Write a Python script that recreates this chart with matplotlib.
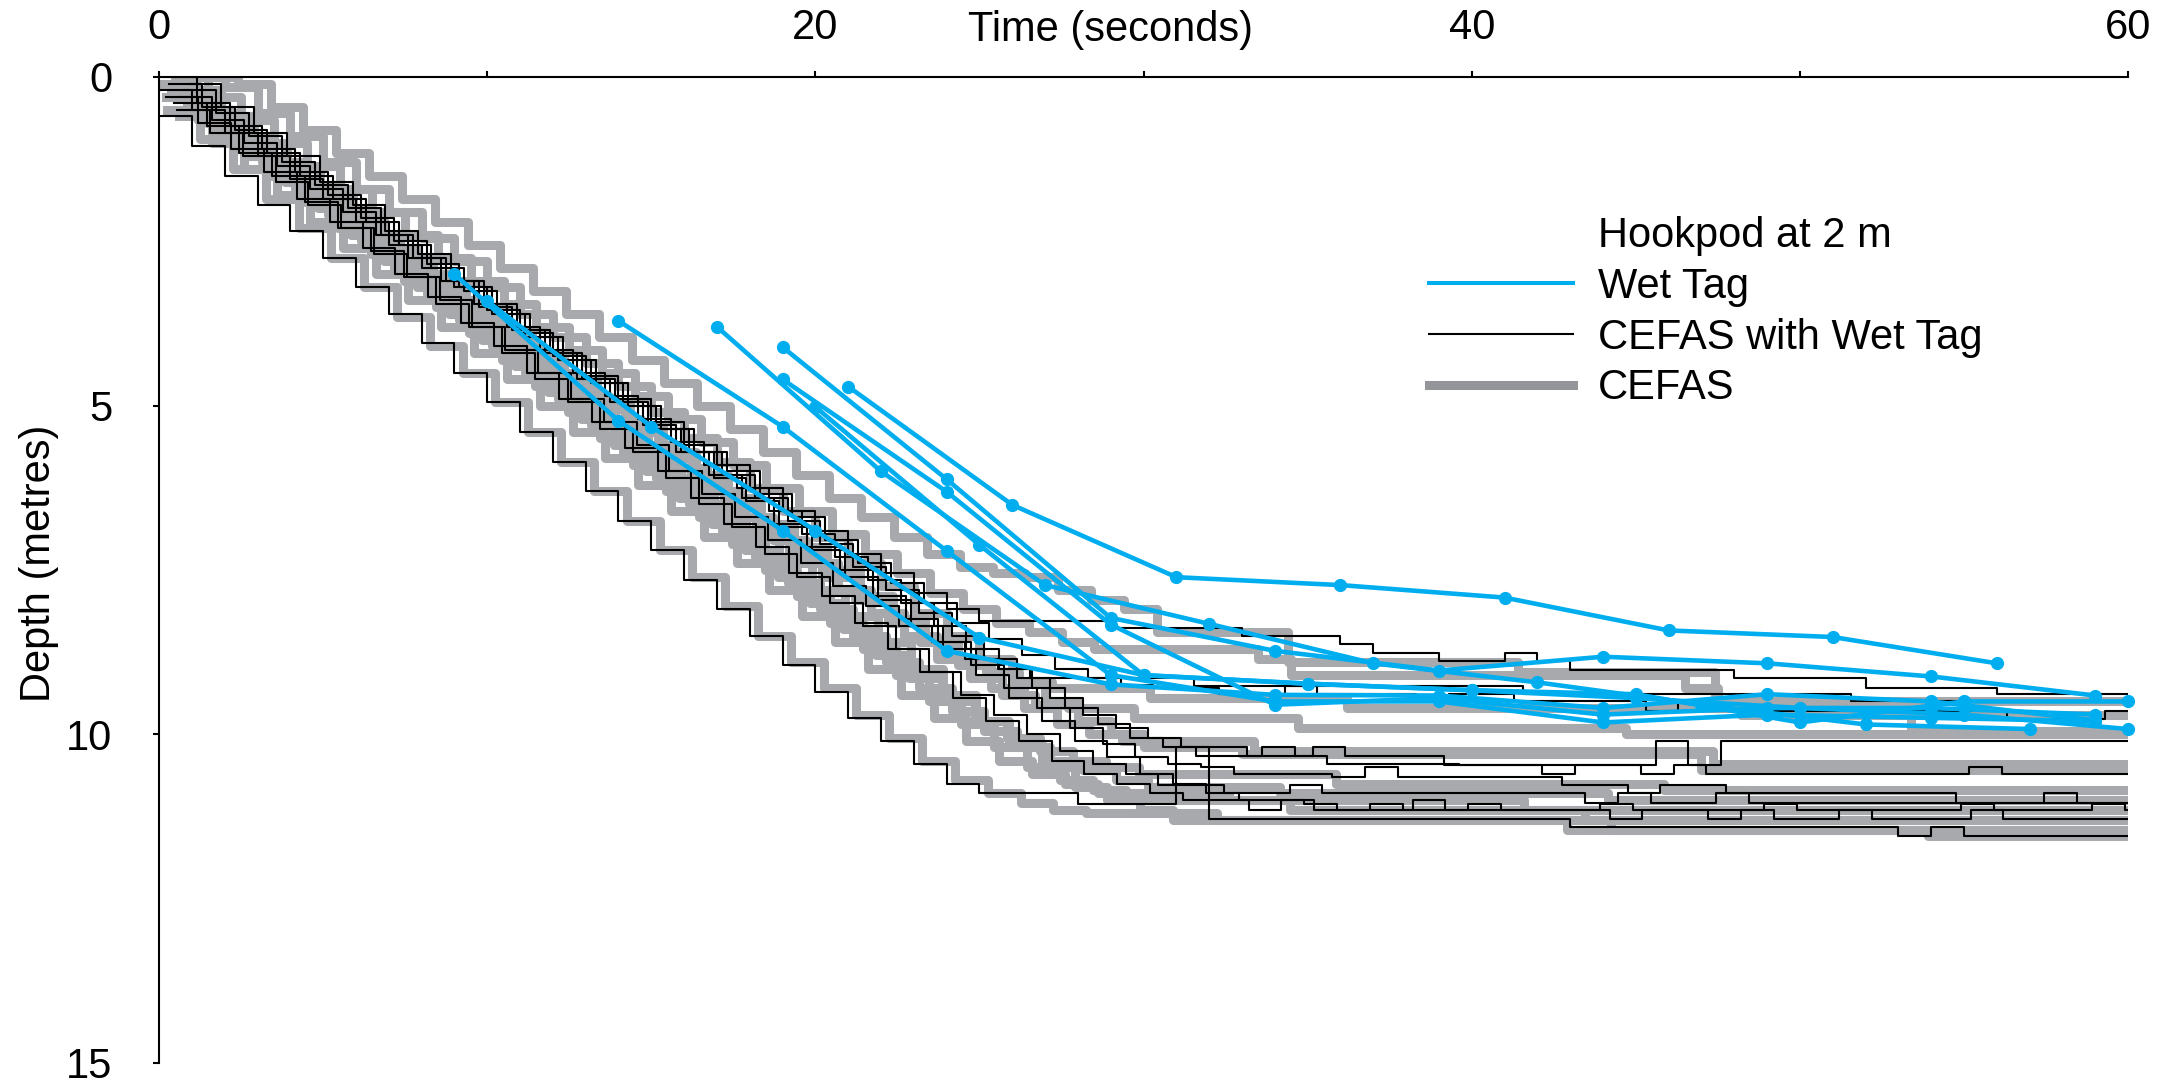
import numpy as np
import matplotlib.pyplot as plt
from matplotlib.lines import Line2D

plt.rcParams["font.family"] = ["Liberation Sans", "DejaVu Sans"]

# CEFAS depth traces: one value per second from the given start time
g1_start = 1.4
g1 = [0.0, 0.1, 0.45, 0.8, 1.15, 1.5, 1.85, 2.2, 2.55, 2.9, 3.25, 3.6, 3.95, 4.3, 4.65, 5.0, 5.35, 5.7, 6.05, 6.4,
      6.7, 7.0, 7.25, 7.45, 7.55, 7.6, 7.8, 7.95, 8.1, 8.45, 8.45, 8.45, 8.45, 8.9, 8.9, 8.9, 8.9, 8.9, 8.9, 8.9,
      9.05, 9.05, 9.05, 9.05, 9.05, 9.05, 9.6, 9.6, 9.6, 9.6, 9.6, 9.6, 9.95, 9.95, 9.95, 9.95, 9.95, 9.95, 9.95, 9.95]
g2_start = 0.5
g2 = [0.0, 0.3, 0.65, 1.0, 1.35, 1.7, 2.05, 2.4, 2.75, 3.1, 3.45, 3.8, 4.15, 4.5, 4.85, 5.2, 5.55, 5.9, 6.25, 6.6,
      6.95, 7.25, 7.55, 7.85, 8.1, 8.3, 8.45, 8.6, 8.7, 8.7, 8.7, 8.7, 8.7, 8.85, 9.1, 9.1, 9.1, 9.1, 9.1, 9.1,
      9.1, 9.1, 9.1, 9.1, 9.1, 9.1, 9.3, 9.5, 9.5, 9.5, 9.5, 9.5, 9.5, 9.5, 9.5, 9.5, 9.5, 9.5, 9.5, 9.5, 9.5]
g3_start = 0.2
g3 = [0.3, 0.65, 1.0, 1.4, 1.75, 2.1, 2.5, 2.85, 3.2, 3.6, 3.95, 4.3, 4.7, 5.05, 5.4, 5.8, 6.15, 6.5, 6.9, 7.25,
      7.6, 7.95, 8.3, 8.6, 8.85, 9.05, 9.2, 9.3, 9.3, 9.3, 9.45, 9.45, 9.45, 9.45, 9.45, 9.45, 9.6, 9.6, 9.6, 9.6,
      9.6, 9.6, 9.6, 9.6, 9.6, 9.6, 9.6, 9.6, 9.7, 9.7, 9.7, 9.7, 9.7, 9.7, 9.7, 9.7, 9.7, 9.7, 9.7, 9.7, 9.7]
g4_start = 0.7
g4 = [0.5, 0.85, 1.2, 1.55, 1.9, 2.3, 2.65, 3.0, 3.4, 3.75, 4.1, 4.5, 4.85, 5.2, 5.6, 5.95, 6.3, 6.7, 7.05, 7.4,
      7.8, 8.15, 8.5, 8.85, 9.15, 9.4, 9.55, 9.6, 9.6, 9.75, 9.75, 9.75, 9.75, 9.75, 9.9, 9.9, 9.9, 9.9, 9.9, 9.9,
      9.9, 9.9, 9.9, 9.9, 10.0, 10.0, 10.0, 10.0, 10.0, 10.0, 10.0, 10.0, 10.0, 10.0, 10.0, 10.0, 10.0, 10.0, 10.0,
      10.0, 10.0]
g5_start = 0.35
g5 = [0.2, 0.55, 0.9, 1.3, 1.65, 2.0, 2.4, 2.75, 3.1, 3.5, 3.85, 4.2, 4.6, 4.95, 5.3, 5.7, 6.05, 6.4, 6.8, 7.15,
      7.5, 7.9, 8.25, 8.6, 8.95, 9.3, 9.6, 9.85, 10.0, 10.1, 10.1, 10.1, 10.1, 10.25, 10.25, 10.25, 10.25, 10.25,
      10.25, 10.25, 10.25, 10.25, 10.25, 10.25, 10.25, 10.25, 10.25, 10.45, 10.45, 10.45, 10.45, 10.45, 10.45,
      10.45, 10.45, 10.45, 10.45, 10.45, 10.45, 10.45, 10.45]
g6_start = 1.0
g6 = [0.0, 0.15, 0.55, 0.9, 1.3, 1.7, 2.05, 2.45, 2.8, 3.2, 3.6, 3.95, 4.35, 4.7, 5.1, 5.5, 5.85, 6.25, 6.6, 7.0,
      7.4, 7.75, 8.15, 8.5, 8.85, 9.2, 9.5, 9.8, 10.0, 10.2, 10.2, 10.2, 10.3, 10.3, 10.3, 10.3, 10.3, 10.3, 10.3,
      10.3, 10.3, 10.3, 10.3, 10.3, 10.3, 10.3, 10.55, 10.55, 10.55, 10.55, 10.55, 10.55, 10.55, 10.55, 10.55,
      10.55, 10.55, 10.55, 10.55, 10.55]
g7_start = 0.85
g7 = [0.4, 0.8, 1.2, 1.6, 2.0, 2.4, 2.8, 3.2, 3.6, 4.0, 4.4, 4.8, 5.2, 5.6, 6.0, 6.4, 6.8, 7.2, 7.6, 8.0,
      8.4, 8.8, 9.15, 9.5, 9.8, 10.05, 10.25, 10.4, 10.5, 10.6, 10.6, 10.6, 10.6, 10.6, 10.6, 10.75, 10.75, 10.75,
      10.75, 10.75, 10.75, 10.75, 10.75, 10.75, 10.75, 10.85, 10.85, 10.85, 10.85, 10.85, 10.85, 10.85, 10.85,
      10.85, 10.85, 10.85, 10.85, 10.85, 10.85, 10.85, 10.85]
g8_start = 0.15
g8 = [0.1, 0.5, 0.9, 1.3, 1.7, 2.1, 2.5, 2.9, 3.3, 3.7, 4.1, 4.5, 4.9, 5.3, 5.7, 6.1, 6.5, 6.9, 7.3, 7.7,
      8.1, 8.5, 8.9, 9.3, 9.65, 9.95, 10.2, 10.4, 10.55, 10.7, 10.8, 10.8, 10.8, 10.8, 10.9, 10.9, 10.9, 10.9,
      10.9, 10.9, 10.9, 10.9, 10.9, 10.9, 11.0, 11.0, 11.0, 11.0, 11.0, 11.0, 11.0, 11.0, 11.0, 11.0, 11.0, 11.0,
      11.0, 11.0, 11.0, 11.0, 11.0]
g9_start = 0.6
g9 = [0.6, 1.0, 1.4, 1.8, 2.2, 2.6, 3.0, 3.4, 3.8, 4.2, 4.6, 5.0, 5.4, 5.8, 6.2, 6.6, 7.0, 7.4, 7.8, 8.2,
      8.6, 9.0, 9.4, 9.75, 10.1, 10.4, 10.6, 10.75, 10.9, 10.9, 10.9, 10.9, 11.0, 11.0, 11.0, 11.0, 11.0, 11.0,
      11.0, 11.0, 11.0, 11.15, 11.15, 11.15, 11.15, 11.15, 11.15, 11.15, 11.15, 11.15, 11.15, 11.15, 11.15, 11.15,
      11.15, 11.15, 11.15, 11.15, 11.15, 11.15, 11.15]
g10_start = 0.45
g10 = [0.3, 0.7, 1.1, 1.5, 1.9, 2.3, 2.7, 3.1, 3.5, 3.9, 4.3, 4.7, 5.1, 5.5, 5.9, 6.3, 6.7, 7.1, 7.5, 7.9,
       8.3, 8.7, 9.1, 9.5, 9.85, 10.2, 10.5, 10.7, 10.85, 11.0, 11.0, 11.0, 11.0, 11.0, 11.15, 11.15, 11.15, 11.15,
       11.15, 11.15, 11.15, 11.15, 11.15, 11.3, 11.3, 11.3, 11.3, 11.3, 11.3, 11.3, 11.3, 11.3, 11.3, 11.3, 11.3,
       11.3, 11.3, 11.3, 11.3, 11.3, 11.3]
g11_start = 0.25
g11 = [0.5, 0.95, 1.4, 1.85, 2.3, 2.75, 3.2, 3.65, 4.1, 4.5, 4.95, 5.4, 5.85, 6.3, 6.75, 7.2, 7.6, 8.05, 8.5,
       8.9, 9.3, 9.7, 10.05, 10.4, 10.7, 10.9, 11.05, 11.15, 11.2, 11.2, 11.2, 11.2, 11.3, 11.3, 11.3, 11.3, 11.3,
       11.3, 11.3, 11.3, 11.3, 11.3, 11.3, 11.3, 11.45, 11.45, 11.45, 11.45, 11.45, 11.45, 11.45, 11.45, 11.45,
       11.45, 11.45, 11.45, 11.45, 11.45, 11.45, 11.45, 11.45]
g12_start = 0.9
g12 = [0.2, 0.6, 1.0, 1.4, 1.8, 2.2, 2.6, 3.0, 3.4, 3.8, 4.2, 4.6, 5.0, 5.4, 5.8, 6.2, 6.6, 7.0, 7.4, 7.8,
       8.2, 8.6, 9.0, 9.4, 9.8, 10.15, 10.5, 10.8, 11.0, 11.15, 11.3, 11.3, 11.3, 11.3, 11.3, 11.3, 11.3, 11.3,
       11.3, 11.3, 11.3, 11.3, 11.45, 11.45, 11.45, 11.45, 11.45, 11.45, 11.45, 11.45, 11.45, 11.45, 11.45, 11.55,
       11.55, 11.55, 11.55, 11.55, 11.55, 11.55, 11.55]

# CEFAS traces recorded alongside a Wet Tag
k1_start = 0.0
k1 = [0.2, 0.5, 0.85, 1.2, 1.55, 1.85, 2.2, 2.55, 2.9, 3.2, 3.55, 3.9, 4.25, 4.55, 4.9, 5.25, 5.6, 5.9, 6.25,
      6.6, 6.9, 7.25, 7.55, 7.85, 8.1, 8.27, 8.27, 8.27, 8.27, 8.38, 8.38, 8.38, 8.38, 8.5, 8.5, 8.5, 8.62, 8.76,
      8.76, 8.88, 8.88, 8.76, 8.88, 9.02, 9.02, 9.02, 9.02, 9.02, 9.14, 9.14, 9.14, 9.14, 9.29, 9.29, 9.29, 9.29,
      9.39, 9.39, 9.39, 9.39, 9.39]
k2_start = 0.3
k2 = [0.1, 0.45, 0.8, 1.15, 1.5, 1.85, 2.2, 2.55, 2.9, 3.25, 3.6, 3.95, 4.3, 4.65, 5.0, 5.35, 5.7, 6.0, 6.35,
      6.7, 7.05, 7.4, 7.7, 8.0, 8.3, 8.55, 8.8, 9.0, 9.15, 9.25, 9.3, 9.3, 9.39, 9.39, 9.27, 9.39, 9.39, 9.39,
      9.5, 9.39, 9.39, 9.5, 9.5, 9.5, 9.5, 9.64, 9.5, 9.64, 9.64, 9.64, 9.64, 9.64, 9.64, 9.64, 9.64, 9.64, 9.77,
      9.77, 9.77, 9.64, 9.77]
k3_start = 0.6
k3 = [0.3, 0.65, 1.0, 1.35, 1.7, 2.05, 2.4, 2.75, 3.1, 3.45, 3.8, 4.15, 4.5, 4.85, 5.2, 5.55, 5.9, 6.25, 6.6,
      6.95, 7.3, 7.65, 8.0, 8.35, 8.7, 9.0, 9.3, 9.6, 9.85, 10.05, 10.2, 10.33, 10.33, 10.2, 10.33, 10.45, 10.45,
      10.45, 10.45, 10.47, 10.47, 10.47, 10.47, 10.47, 10.47, 10.1, 10.47, 10.1, 10.1, 10.1, 10.1, 10.1, 10.1,
      10.1, 10.1, 10.1, 10.1, 10.1, 10.1, 10.1, 10.1]
k4_start = 0.15
k4 = [0.0, 0.4, 0.75, 1.1, 1.45, 1.8, 2.15, 2.5, 2.85, 3.2, 3.6, 3.95, 4.3, 4.65, 5.0, 5.35, 5.7, 6.05, 6.4,
      6.75, 7.1, 7.45, 7.8, 8.15, 8.5, 8.85, 9.15, 9.45, 9.7, 9.9, 10.05, 10.2, 10.2, 10.33, 10.33, 10.2, 10.33,
      10.33, 10.33, 10.47, 10.47, 10.47, 10.6, 10.47, 10.47, 10.6, 10.47, 10.6, 10.6, 10.6, 10.6, 10.6, 10.6, 10.6,
      10.6, 10.5, 10.6, 10.6, 10.6, 10.6, 10.6]
k5_start = 0.75
k5 = [0.2, 0.55, 0.9, 1.3, 1.65, 2.0, 2.4, 2.75, 3.1, 3.5, 3.85, 4.2, 4.6, 4.95, 5.3, 5.7, 6.05, 6.4, 6.8,
      7.15, 7.5, 7.9, 8.25, 8.6, 8.95, 9.3, 9.6, 9.9, 10.15, 10.35, 10.45, 10.5, 10.6, 10.6, 10.6, 10.65, 10.5,
      10.65, 10.65, 10.65, 10.65, 10.65, 10.77, 10.77, 10.9, 10.77, 10.77, 10.9, 10.9, 10.9, 10.9, 10.9, 10.9,
      10.9, 11.05, 11.05, 11.05, 11.05, 11.05, 11.05, 11.05]
k6_start = 0.45
k6 = [0.4, 0.75, 1.15, 1.5, 1.9, 2.3, 2.65, 3.05, 3.45, 3.8, 4.2, 4.6, 4.95, 5.35, 5.7, 6.1, 6.5, 6.85, 7.25,
      7.6, 8.0, 8.35, 8.7, 9.05, 9.4, 9.7, 10.0, 10.25, 10.45, 10.6, 10.77, 10.77, 10.9, 10.9, 10.77, 10.9, 10.9,
      10.9, 10.9, 10.9, 10.9, 10.9, 10.9, 11.05, 10.9, 11.05, 11.05, 10.9, 11.05, 11.05, 11.05, 11.05, 11.05,
      11.05, 11.05, 11.05, 11.05, 10.9, 11.05, 11.05, 11.05]
k7_start = 0.9
k7 = [0.1, 0.45, 0.85, 1.2, 1.6, 1.95, 2.35, 2.7, 3.1, 3.45, 3.85, 4.2, 4.6, 4.95, 5.35, 5.7, 6.1, 6.45, 6.85,
      7.2, 7.6, 7.95, 8.35, 8.7, 9.1, 9.45, 9.8, 10.1, 10.35, 10.6, 10.75, 10.9, 11.0, 11.0, 11.06, 11.15, 11.06,
      11.15, 11.15, 11.06, 11.15, 11.15, 11.15, 11.06, 11.15, 11.15, 11.15, 11.15, 11.06, 11.15, 11.15, 11.15,
      11.15, 11.15, 11.06, 11.15, 11.15, 11.15, 11.06, 11.15, 11.15]
k8_start = 0.2
k8 = [0.3, 0.7, 1.1, 1.45, 1.85, 2.2, 2.6, 3.0, 3.35, 3.75, 4.1, 4.5, 4.9, 5.25, 5.65, 6.0, 6.4, 6.8, 7.15,
      7.55, 7.9, 8.3, 8.7, 9.05, 9.45, 9.8, 10.1, 10.4, 10.6, 10.75, 10.9, 11.0, 11.0, 11.15, 11.0, 11.15, 11.15,
      11.15, 11.0, 11.15, 11.15, 11.15, 11.15, 11.15, 11.29, 11.15, 11.15, 11.29, 11.15, 11.29, 11.29, 11.15,
      11.29, 11.29, 11.29, 11.15, 11.29, 11.29, 11.29, 11.29, 11.29]
k9_start = 0.0
k9 = [0.6, 1.05, 1.5, 1.95, 2.35, 2.75, 3.2, 3.6, 4.05, 4.5, 4.95, 5.4, 5.85, 6.3, 6.75, 7.2, 7.65, 8.1, 8.5,
      8.95, 9.35, 9.75, 10.1, 10.45, 10.75, 10.9, 10.9, 10.9, 11.06, 11.06, 11.06, 10.2, 11.29, 11.29, 11.29,
      11.29, 11.29, 11.29, 11.29, 11.29, 11.29, 11.29, 11.29, 11.41, 11.41, 11.41, 11.41, 11.41, 11.41, 11.41,
      11.41, 11.41, 11.41, 11.55, 11.41, 11.55, 11.55, 11.55, 11.55, 11.55, 11.55]
k10_start = 0.55
k10 = [0.5, 0.85, 1.2, 1.6, 1.95, 2.3, 2.7, 3.05, 3.4, 3.8, 4.15, 4.5, 4.9, 5.25, 5.6, 6.0, 6.35, 6.7, 7.05,
       7.4, 7.75, 8.05, 8.35, 8.6, 8.85, 9.0, 9.14, 9.14, 9.14, 9.14, 9.14, 9.27, 9.27, 9.27, 9.27, 9.27, 9.27,
       9.27, 9.27, 9.27, 9.27, 9.39, 9.39, 9.39, 9.39, 9.39, 9.39, 9.39, 9.39, 9.39, 9.39, 9.5, 9.5, 9.5, 9.5,
       9.5, 9.5, 9.5, 9.5, 9.5, 9.5]

# Wet Tag samples (time s, depth m)
wt_a_t = [9, 14, 19, 24, 29, 34, 39, 44, 49, 54, 59]
wt_a_d = [3.0, 5.23, 6.9, 8.73, 9.24, 9.4, 9.41, 9.6, 9.39, 9.5, 9.79]
wt_b_t = [10, 15, 20, 25, 30, 35, 40, 45, 50, 55, 60]
wt_b_d = [3.41, 5.32, 6.9, 8.53, 9.1, 9.23, 9.33, 9.39, 9.82, 9.5, 9.5]
wt_c_t = [14, 19, 24, 29, 34, 39, 44, 49, 54, 59]
wt_c_d = [3.71, 5.32, 7.21, 9.1, 9.5, 9.5, 9.82, 9.7, 9.75, 9.8]
wt_d_t = [17, 22, 27, 32, 37, 42, 47, 52, 57]
wt_d_d = [3.8, 6.0, 7.73, 8.32, 8.92, 9.21, 9.55, 9.85, 9.92]
wt_e_t = [19, 24, 29, 34, 39, 44, 49, 54, 59]
wt_e_d = [4.11, 6.12, 8.23, 8.73, 9.03, 8.82, 8.92, 9.12, 9.41]
wt_f_t = [19, 24, 29, 34, 39, 44, 49, 54, 59]
wt_f_d = [4.6, 6.31, 8.33, 9.55, 9.45, 9.7, 9.6, 9.6, 9.7]
wt_g_t = [21, 26, 31, 36, 41, 46, 51, 56]
wt_g_d = [4.71, 6.51, 7.61, 7.73, 7.92, 8.42, 8.52, 8.92]
wt_h_t = [20, 25, 30, 35, 40, 45, 50, 55, 60]
wt_h_d = [5.02, 7.12, 9.1, 9.23, 9.33, 9.45, 9.6, 9.7, 9.92]

legend_labels = ["Hookpod at 2 m", "Wet Tag", "CEFAS with Wet Tag", "CEFAS"]

BLUE = "#00aeef"
GREY = "#a7a9ac"

fig = plt.figure(figsize=(21.64, 10.87), dpi=100)
# axes: x 159..2128 px, y 77..1063 px
ax = fig.add_axes([0.0735, 0.0221, 0.9099, 0.9071])

cefas = [(g1_start, g1), (g2_start, g2), (g3_start, g3), (g4_start, g4), (g5_start, g5), (g6_start, g6),
         (g7_start, g7), (g8_start, g8), (g9_start, g9), (g10_start, g10), (g11_start, g11), (g12_start, g12)]
for start, vals in cefas:
    t = start + np.arange(len(vals))
    ax.plot(t, vals, color=GREY, lw=6.5, drawstyle="steps-post", zorder=1)

with_tag = [(k1_start, k1), (k2_start, k2), (k3_start, k3), (k4_start, k4), (k5_start, k5),
            (k6_start, k6), (k7_start, k7), (k8_start, k8), (k9_start, k9), (k10_start, k10)]
for start, vals in with_tag:
    t = start + np.arange(len(vals))
    ax.plot(t, vals, color="black", lw=1.5, drawstyle="steps-post", zorder=2)

tags = [(wt_a_t, wt_a_d), (wt_b_t, wt_b_d), (wt_c_t, wt_c_d), (wt_d_t, wt_d_d),
        (wt_e_t, wt_e_d), (wt_f_t, wt_f_d), (wt_g_t, wt_g_d), (wt_h_t, wt_h_d)]
for t, d in tags:
    ax.plot(t, d, color=BLUE, lw=3.3, marker="o", ms=8.5, clip_on=False, zorder=3)

ax.set_xlim(0, 60)
ax.set_ylim(15, 0)
ax.xaxis.tick_top()
ax.xaxis.set_label_position("top")
ax.set_xticks(range(0, 61, 10))
ax.set_xticklabels(["0", "", "20", "", "40", "", "60"])
ax.set_yticks([0, 5, 10, 15])
ax.tick_params(axis="x", direction="out", length=4.5, width=1.5, pad=16, labelsize=30)
ax.tick_params(axis="y", direction="out", length=4.5, width=1.5, pad=29, labelsize=30)
for side in ["right", "bottom"]:
    ax.spines[side].set_visible(False)
for side in ["top", "left"]:
    ax.spines[side].set_linewidth(1.5)

ax.set_xlabel("Time (seconds)", fontsize=30, va="baseline")
ax.xaxis.set_label_coords(0.483, 1.036)
ax.set_ylabel("Depth (metres)", fontsize=30)
ax.yaxis.set_label_coords(-0.051, 0.507)

handles = [Line2D([], [], color="none"),
           Line2D([], [], color=BLUE, lw=2.9),
           Line2D([], [], color="black", lw=1.5),
           Line2D([], [], color="#939598", lw=6.5)]
ax.legend(handles, legend_labels, loc="upper left", bbox_to_anchor=(0.6604, 0.8013),
          bbox_transform=fig.transFigure, frameon=False, fontsize=30, handlelength=3.45,
          handletextpad=0.6, labelspacing=0.26, borderpad=0, borderaxespad=0)

fig.savefig("out.png", dpi=100)
